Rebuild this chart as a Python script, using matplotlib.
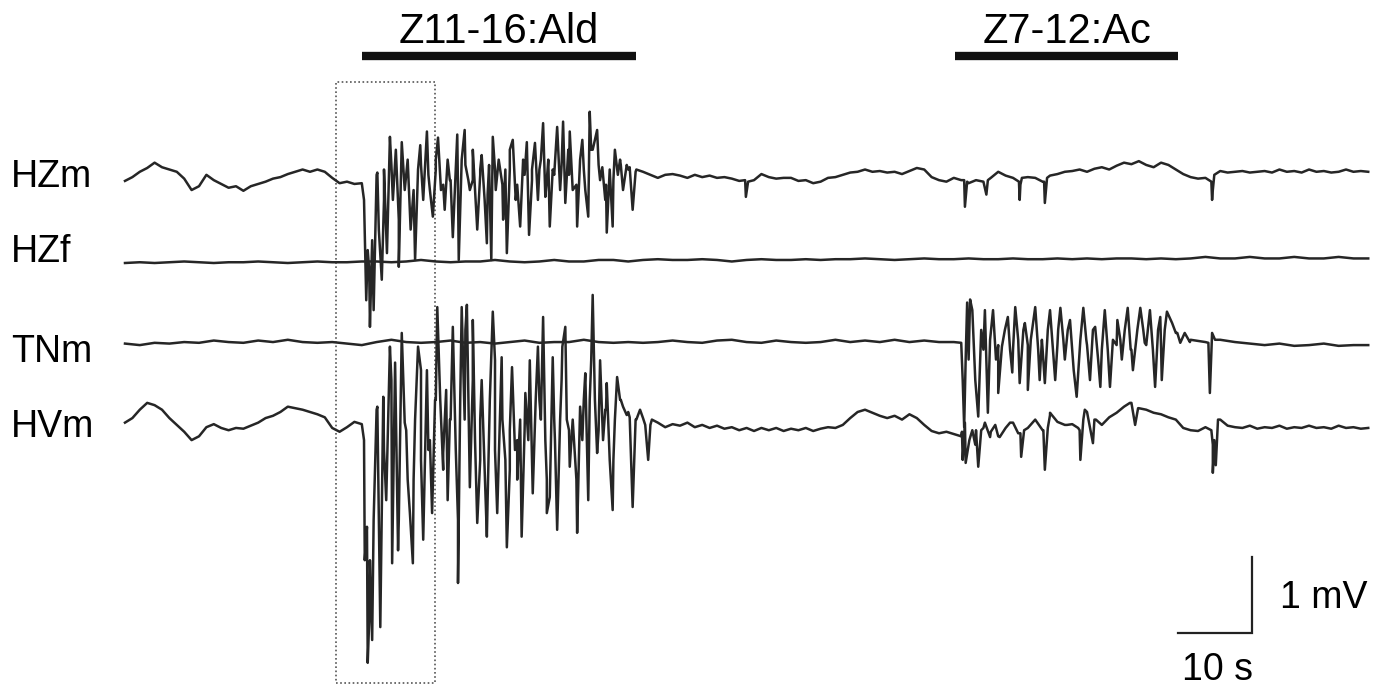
import numpy as np
import matplotlib.pyplot as plt
from matplotlib.patches import Rectangle

plt.rcParams['font.family'] = ['Liberation Sans', 'DejaVu Sans']

# Recorded potentials, mV relative to each channel's resting level.
# Slow traces are sampled on a regular grid (s), burst segments as (t, mV) pairs.
channel_names = ['HZm', 'HZf', 'TNm', 'HVm']

hzm_step = 1.0
hzm = [-0.04, 0.01, 0.08, 0.13, 0.20, 0.14, 0.11, 0.08, -0.01, -0.16,
       -0.11, 0.04, -0.03, -0.08, -0.13, -0.11, -0.17, -0.11, -0.08, -0.05,
       -0.01, 0.01, 0.05, 0.08, 0.11, 0.08, 0.11, 0.08, 0.00, -0.07,
       -0.05, -0.08, -0.07, -1.21, 0.04, -0.29, 0.17, -0.55, 0.04, -0.16,
       0.17, 0.04, 0.11, -0.09, -0.03, -0.16, 0.17, -0.03, 0.04, -0.22,
       0.11, -0.09, 0.11, -0.09, 0.04, -0.03, 0.11, -0.03, 0.04, 0.17,
       0.04, -0.09, 0.11, 0.37, 0.17, -0.09, -0.03, 0.17, 0.11, 0.08,
       0.08, 0.04, 0.00, 0.04, 0.05, 0.03, 0.00, 0.04, 0.01, 0.03,
       0.00, 0.01, -0.01, -0.04, -0.18, -0.03, 0.05, 0.01, -0.01, 0.00,
       0.00, -0.04, -0.03, -0.07, -0.05, 0.00, 0.01, 0.04, 0.07, 0.08,
       0.11, 0.08, 0.09, 0.07, 0.08, 0.05, 0.09, 0.13, 0.11, 0.01,
       -0.03, -0.05, 0.00, -0.03, -0.07, -0.03, -0.05, 0.00, 0.08, 0.03,
       0.00, -0.09, 0.01, 0.00, -0.05, 0.03, 0.05, 0.08, 0.09, 0.11,
       0.08, 0.12, 0.14, 0.11, 0.16, 0.20, 0.18, 0.22, 0.17, 0.14,
       0.20, 0.17, 0.11, 0.05, 0.01, -0.01, 0.00, -0.16, 0.09, 0.07,
       0.08, 0.09, 0.07, 0.08, 0.09, 0.07, 0.11, 0.08, 0.09, 0.07,
       0.11, 0.08, 0.09, 0.07, 0.08, 0.11, 0.08, 0.09, 0.08]
hzm_ald_t = [32.3, 32.6, 32.8, 33.1, 33.4, 33.6, 34.1, 34.3, 34.7, 35.0, 35.4, 35.8,
             36.2, 36.6, 37.0, 37.4, 37.8, 38.2, 38.6, 39.2, 39.6, 39.9, 40.3, 40.8,
             41.2, 41.6, 42.0, 42.3, 42.7, 43.2, 43.6, 43.9, 44.3, 44.9, 45.1, 45.5,
             45.9, 46.4, 46.6, 47.0, 47.6, 48.0, 48.2, 48.6, 48.9, 49.2, 49.5, 49.7,
             50.1, 50.5, 51.1, 51.4, 51.6, 52.0, 52.4, 52.8, 53.4, 53.8, 54.3, 54.6,
             55.0, 55.4, 55.8, 56.2, 56.5, 56.8, 57.2, 57.4, 57.8, 58.4, 58.8, 59.2,
             59.5, 59.9, 60.1, 60.5, 61.1, 61.5, 61.8, 62.2, 62.6, 62.8, 63.2, 63.8,
             64.2, 64.5, 64.9, 65.1, 65.5, 65.9, 66.2, 66.6, 66.9, 67.3, 67.8, 68.2,
             68.6, 69.1]
hzm_ald_v = [-0.29, -1.61, -0.95, -1.96, -0.82, -1.74, 0.07, -0.68, -1.34, 0.11, -0.99, 0.54,
             -0.29, 0.37, -1.17, 0.47, -0.16, 0.24, -0.68, -1.08, 0.11, 0.43, -0.29, 0.61,
             -0.16, -0.51, 0.24, 0.53, -0.16, -0.42, 0.24, -0.03, -0.78, 0.57, -1.08, 0.24,
             0.63, -0.03, -0.16, 0.37, -0.68, 0.11, 0.30, -0.29, -0.86, 0.17, -1.08, 0.54,
             -0.16, 0.24, -0.55, 0.11, -0.99, 0.37, 0.50, -0.29, -0.64, 0.24, 0.47, -0.75,
             0.11, 0.46, -0.29, 0.24, 0.72, -0.25, 0.24, -0.64, 0.11, 0.67, -0.16, 0.74,
             -0.33, 0.37, 0.61, -0.16, -0.64, 0.24, 0.50, -0.16, -0.51, 0.87, 0.37, 0.63,
             -0.03, 0.14, -0.29, -0.72, 0.11, -0.64, 0.37, 0.04, 0.24, -0.16, 0.17, 0.14,
             -0.42, 0.11]
hzm_tick_t = [83.8, 83.9, 84.2, 113.4, 113.5, 113.8, 116.4, 116.6, 120.8, 120.9, 121.2,
              124.2, 124.3, 124.6, 146.8, 146.9, 147.2]
hzm_tick_v = [-0.03, -0.25, -0.05, -0.03, -0.38, -0.05, -0.22, -0.03, -0.05, -0.29, 0.00,
              -0.05, -0.33, 0.00, -0.05, -0.29, 0.04]

hzf_step = 2.0
hzf = [-0.01, 0.00, -0.01, 0.00, 0.01, 0.00, -0.01, 0.00, 0.00, 0.01,
       0.00, -0.01, 0.00, 0.01, 0.00, 0.00, 0.01,
       0.01, 0.00, 0.01, 0.03, 0.01, 0.00, 0.01, 0.01, 0.03, 0.01,
       0.00, 0.01, 0.03, 0.01, 0.01, 0.03, 0.03, 0.01,
       0.03, 0.04, 0.03, 0.03, 0.04, 0.03, 0.01, 0.03, 0.04, 0.03,
       0.03, 0.04, 0.03, 0.04, 0.04, 0.05, 0.04, 0.03, 0.04, 0.05,
       0.04, 0.04, 0.05, 0.04, 0.04, 0.05, 0.04, 0.04, 0.05, 0.04,
       0.05, 0.04, 0.05, 0.05, 0.04, 0.05, 0.04, 0.05, 0.07, 0.05,
       0.05, 0.07, 0.05, 0.05, 0.07, 0.05, 0.05, 0.07, 0.05, 0.05]

tnm_step = 2.0
tnm = [-0.01, -0.03, 0.00, -0.01, 0.01, 0.00, 0.03, 0.01, 0.00, 0.03,
       0.01, 0.04, 0.01, 0.00, 0.01, -0.01, -0.03, 0.01, 0.04, 0.01,
       0.00, 0.01, 0.03, 0.00, 0.01, -0.01, 0.01, 0.03, 0.00, 0.01,
       0.01, 0.04, 0.01, 0.00, 0.01, 0.00, 0.01, 0.03, 0.01, 0.00,
       0.03, 0.04, 0.01, 0.00, 0.03, 0.01, 0.00, 0.01, 0.04, 0.01,
       0.03, 0.01, 0.04, 0.01, 0.03, 0.01, 0.01, -0.22, -0.09, -0.03,
       -0.09, -0.03, -0.09, -0.03, -0.09, -0.03, -0.09, -0.03, -0.09, -0.03,
       -0.03, 0.13, 0.04, 0.01, 0.04, 0.01, -0.01, -0.03, -0.01, -0.04,
       -0.03, -0.01, -0.04, -0.03, -0.03]
tnm_ac_t = [113.0, 113.2, 113.4, 113.6, 113.8, 114.2, 114.5, 114.9, 115.3, 115.7,
            116.2, 116.6, 116.9, 117.3, 117.7, 118.0, 118.5, 118.9, 119.3, 119.6,
            119.9, 120.3, 120.7, 120.9, 121.4, 121.6, 122.0, 122.4, 123.0, 123.4,
            123.6, 123.9, 124.3, 124.7, 125.0, 125.4, 125.7, 126.1, 126.4, 126.8,
            127.0, 127.4, 127.7, 128.2, 128.6, 129.1, 129.5, 129.9, 130.4, 130.8,
            131.1, 131.5, 131.8, 132.2, 132.4, 132.8, 133.1, 133.5, 134.1, 134.5,
            134.7, 135.1, 135.5, 135.9, 136.2, 136.8, 137.2, 137.6, 137.8, 138.5,
            138.9, 139.2, 139.6, 139.9, 140.1, 140.5, 140.8, 141.5, 142.2, 142.6,
            143.2, 143.9, 146.4, 146.6, 146.9, 147.3]
tnm_ac_v = [0.00, -0.49, -1.11, -0.22, 0.53, 0.57, 0.43, -0.49, -0.97, 0.17,
            0.43, -0.92, 0.04, 0.43, -0.22, -0.66, -0.05, 0.17, 0.34, -0.09,
            -0.39, 0.47, 0.04, -0.53, 0.17, 0.26, -0.62, 0.04, 0.47, -0.09,
            -0.49, 0.04, -0.53, 0.17, 0.43, -0.09, -0.49, 0.17, 0.46, 0.04,
            -0.22, 0.17, 0.30, -0.36, -0.71, 0.04, 0.46, 0.04, -0.49, 0.17,
            0.21, -0.22, -0.58, 0.17, 0.43, -0.09, -0.58, 0.04, 0.30, 0.04,
            -0.22, 0.17, 0.46, -0.09, -0.36, 0.17, 0.46, 0.17, 0.00, 0.43,
            -0.09, -0.58, 0.17, 0.34, -0.49, 0.17, 0.41, 0.26, 0.13, 0.00,
            0.13, 0.01, 0.00, -0.66, 0.13, 0.04]

hvm_step = 1.0
hvm = [0.07, 0.13, 0.24, 0.33, 0.30, 0.24, 0.13, 0.04, -0.05, -0.16,
       -0.11, 0.01, 0.05, 0.00, -0.03, 0.00, -0.01, 0.03, 0.07, 0.13,
       0.16, 0.21, 0.28, 0.26, 0.24, 0.21, 0.18, 0.14, 0.00, -0.05,
       0.01, 0.08, 0.05, -2.53, 0.24, -0.29, 0.63, -1.21, -0.03, -0.68,
       0.76, -0.29, 0.37, -0.55, 0.11, -1.21, 1.29, 0.63, -0.42, -0.95,
       0.89, 0.11, -0.55, -0.16, -0.03, -0.42, 0.37, -0.68, 0.11, 0.63,
       -0.03, -0.68, 0.37, 0.89, -0.03, 0.24, -0.42, 0.37, 0.21, 0.11,
       0.13, 0.04, 0.07, 0.01, 0.05, 0.03, 0.07, 0.01, 0.04, 0.00,
       0.03, -0.01, 0.01, -0.03, 0.00, -0.04, 0.00, -0.03, 0.00, -0.04,
       -0.01, -0.03, 0.00, -0.04, -0.01, 0.01, 0.00, 0.04, 0.13, 0.21,
       0.24, 0.20, 0.16, 0.13, 0.16, 0.11, 0.18, 0.13, 0.04, -0.04,
       -0.07, -0.05, -0.08, -0.11, -0.22, -0.03, 0.00, -0.05, -0.11, 0.00,
       0.07, -0.07, 0.00, 0.11, -0.03, 0.17, 0.08, 0.04, 0.05, -0.03,
       0.21, 0.11, 0.04, 0.14, 0.20, 0.28, 0.33, 0.26, 0.24, 0.20,
       0.18, 0.14, 0.11, 0.00, -0.03, -0.04, 0.01, -0.22, 0.11, 0.03,
       0.01, 0.00, 0.03, -0.01, 0.01, 0.00, 0.03, -0.01, 0.01, 0.00,
       0.03, 0.00, 0.01, -0.01, 0.03, 0.00, 0.01, -0.01, 0.00]
hvm_ald_t = [32.3, 32.4, 32.7, 32.8, 33.1, 33.4, 33.6, 34.1, 34.5, 34.9,
             35.3, 35.8, 36.1, 36.5, 36.9, 37.4, 37.8, 38.2, 38.5, 38.9,
             39.2, 39.6, 40.0, 40.3, 40.8, 41.2, 41.5, 41.9, 42.2, 42.6,
             43.0, 43.4, 43.6, 43.9, 44.3, 44.7, 45.0, 45.3, 45.5, 45.9,
             46.2, 46.6, 47.0, 47.3, 47.6, 48.0, 48.2, 48.6, 48.9, 49.3,
             49.7, 50.0, 50.3, 50.7, 50.9, 51.4, 51.6, 52.0, 52.3, 52.7,
             53.0, 53.4, 53.6, 54.1, 54.5, 54.7, 55.1, 55.5, 55.8, 56.2,
             56.5, 56.8, 57.0, 57.4, 57.8, 58.1, 58.4, 58.8, 59.1, 59.5,
             59.7, 60.1, 60.5, 61.1, 61.5, 61.8, 62.2, 62.6, 62.8, 63.2,
             63.5, 63.8, 64.2, 64.6, 64.9, 65.1, 65.5, 65.9, 66.2, 66.5,
             66.9, 67.3, 67.8, 68.2, 68.6, 69.1, 69.6, 70.3, 70.7, 71.2]
hvm_ald_v = [-0.16, -1.74, -1.30, -3.09, -1.74, -2.79, -1.21, 0.28, -2.62, 0.41,
             -0.95, 1.07, -1.78, 0.86, -1.61, 1.25, 0.07, -0.68, -1.12, -1.78,
             0.11, 1.07, -0.42, -1.47, 0.76, -0.16, -1.12, 0.37, 1.59, 0.37,
             -0.33, 0.50, -0.95, 0.11, 1.33, -0.29, -2.04, 0.37, 1.59, 0.11,
             1.62, -0.78, 1.42, -0.16, -1.25, 0.11, 0.63, -0.55, -1.43, 0.37,
             1.53, -0.29, -1.12, 0.24, 0.93, -0.42, -1.57, -0.03, 0.80, -0.29,
             -0.68, 0.11, -1.43, 0.46, -0.16, 0.89, -0.86, 0.37, 1.07, 0.11,
             1.46, -0.16, -1.12, -0.91, 0.93, -0.16, -1.34, 0.11, 1.07, 1.33,
             0.11, -0.51, 0.11, -1.38, 0.28, -0.16, 0.72, -0.95, 0.37, 1.75,
             0.37, -0.33, 0.89, -0.16, 0.24, 0.59, -0.42, -1.08, 0.11, 0.67,
             0.37, 0.28, 0.17, 0.14, -1.04, 0.11, 0.24, 0.04, -0.42, 0.11]
hvm_ac_t = [113.1, 113.2, 113.5, 113.6, 114.1, 114.5, 114.9, 115.3, 115.7, 116.2,
            116.9, 117.6, 118.2, 119.6, 120.7, 121.1, 121.5, 123.0, 124.1, 124.3,
            124.7, 125.0, 127.3, 128.8, 129.1, 129.5, 129.7, 130.8, 131.2, 135.8,
            136.5, 136.9, 146.8, 147.0, 147.2, 147.4, 147.7]
hvm_ac_v = [-0.05, -0.42, 0.07, -0.46, -0.16, -0.03, -0.22, -0.51, -0.03, 0.07,
            -0.12, 0.04, -0.12, 0.07, -0.07, -0.38, -0.03, 0.11, -0.03, -0.55,
            0.00, 0.20, 0.04, 0.00, -0.42, 0.11, 0.24, -0.20, 0.11, 0.33,
            0.04, 0.26, -0.03, -0.59, -0.16, -0.49, 0.11]

# Odour stimuli (s)
stim_names = ['Z11-16:Ald', 'Z7-12:Ac']
stim_on = [32.0, 112.2]
stim_off = [69.1, 142.3]

# Expanded window marked on the record (s)
window_start, window_end = 28.5, 41.9


def merge(step, grid, *segments):
    t = [np.arange(len(grid)) * step]
    v = [np.asarray(grid, dtype=float)]
    for seg_t, seg_v in segments:
        t.append(np.asarray(seg_t, dtype=float))
        v.append(np.asarray(seg_v, dtype=float))
    t = np.concatenate(t)
    v = np.concatenate(v)
    order = np.argsort(t, kind='stable')
    return t[order], v[order]


traces = [
    merge(hzm_step, hzm, (hzm_ald_t, hzm_ald_v), (hzm_tick_t, hzm_tick_v)),
    merge(hzf_step, hzf),
    merge(tnm_step, tnm, (tnm_ac_t, tnm_ac_v)),
    merge(hvm_step, hvm, (hvm_ald_t, hvm_ald_v), (hvm_ac_t, hvm_ac_v)),
]

# vertical placement of each channel (mV) and its label baseline
offsets = [6.79, 5.68, 4.62, 3.50]
label_y = [6.67, 5.68, 4.37, 3.38]

fig = plt.figure(figsize=(13.78, 6.94), dpi=100)
ax = fig.add_axes([0, 0, 1, 1])
ax.set_xlim(-16.89, 169.32)
ax.set_ylim(0, 9.13)
ax.axis('off')

ink = '#262626'
for name, (t, v), off, ly in zip(channel_names, traces, offsets, label_y):
    ax.plot(t, v + off, color=ink, lw=1.8)
    ax.text(-15.4, ly, name, fontsize=27, ha='left', va='baseline', color='black')

# stimulus bars with their labels
for name, on, off in zip(stim_names, stim_on, stim_off):
    ax.plot([on, off], [8.39, 8.39], color='#111111', lw=6, solid_capstyle='butt')
    ax.text((on + off) / 2, 8.56, name, fontsize=30, ha='center', va='baseline')

# dotted box around the expanded window
ax.add_patch(Rectangle((window_start, 0.14), window_end - window_start, 7.91,
                       fill=False, edgecolor='#555555', lw=1.2, linestyle=(0, (1, 1.5))))

# scale bar: 10 s and 1 mV
sb_x, sb_y = 152.3, 0.80
sb_t, sb_v = 10, 1
ax.plot([sb_x - sb_t, sb_x, sb_x], [sb_y, sb_y, sb_y + sb_v], color='#222222', lw=1.6,
        solid_joinstyle='miter')
ax.text(sb_x + 3.8, 1.13, '1 mV', fontsize=27, ha='left', va='baseline')
ax.text(sb_x - 9.5, 0.18, '10 s', fontsize=27, ha='left', va='baseline')

fig.savefig('out.png', dpi=100)
